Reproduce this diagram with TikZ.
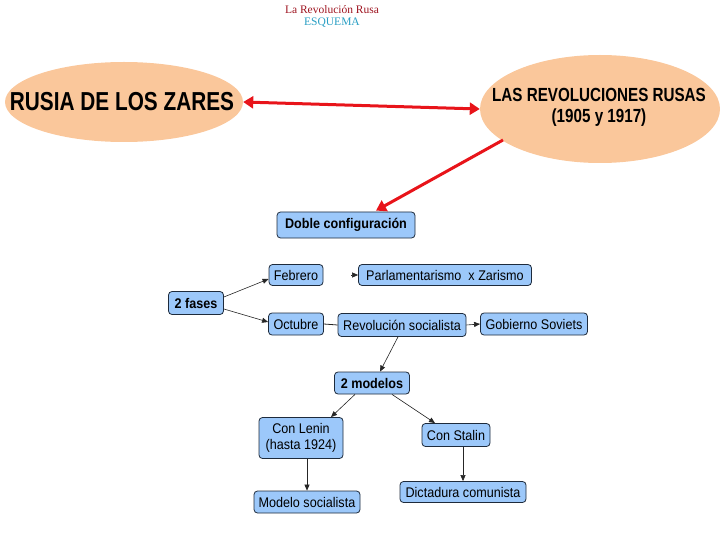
\documentclass[tikz,border=0pt]{standalone}
\usepackage{fontspec}
\setmainfont{Liberation Sans}
\newfontfamily\titlefont{Liberation Serif}
\usetikzlibrary{arrows.meta,shapes.geometric}
\definecolor{peach}{HTML}{FAC79B}
\definecolor{boxblue}{HTML}{9CC8FA}
\definecolor{boxline}{HTML}{1E2B3C}
\definecolor{redarrow}{HTML}{E8141A}
\definecolor{titlered}{HTML}{9E1420}
\definecolor{titleteal}{HTML}{2A9FC4}
\newcommand{\cnd}[1]{\scalebox{0.9}[1]{#1}}
\tikzset{
  oval/.style={ellipse, fill=peach, draw=none, inner sep=0pt},
  conceptbox/.style={rectangle, rounded corners=3.5pt, fill=boxblue, draw=boxline, line width=0.8pt, inner sep=0pt, font=\fontsize{14}{15.5}\selectfont, align=center},
  boldbox/.style={conceptbox, font=\fontsize{14}{15.5}\selectfont\bfseries},
  redlink/.style={draw=redarrow, line width=3pt, -{Triangle[length=10pt,width=12pt]}},
  redboth/.style={draw=redarrow, line width=3pt, {Triangle[length=10pt,width=12pt]}-{Triangle[length=10pt,width=12pt]}},
  link/.style={draw=black!85, line width=0.6pt, -{Triangle[length=6pt,width=5pt]}},
  plainlink/.style={draw=black!85, line width=0.8pt}
}
\begin{document}
\begin{tikzpicture}[x=1pt,y=-1pt]
\useasboundingbox (0,0) rectangle (720,540);
% titles
\node (t1) at (332,10) {\titlefont\fontsize{11.5}{13}\selectfont\color{titlered}La Revolución Rusa};
\node (t2) at (332,23) {\titlefont\fontsize{11.5}{13}\selectfont\color{titleteal}ESQUEMA};
% ellipses
\node[oval, minimum width=238pt, minimum height=80pt] (zares) at (124,102) {};
\node (zarestext) at (122,102) {\scalebox{0.8}[1]{\fontsize{26}{28}\selectfont\bfseries RUSIA DE LOS ZARES}};
\node[oval, minimum width=240pt, minimum height=108pt] (revs) at (600,109) {};
\node[align=center, font=\fontsize{19}{21}\selectfont\bfseries] (revtext) at (599,107) {\scalebox{0.8}[1]{LAS REVOLUCIONES RUSAS}\\\scalebox{0.8}[1]{(1905 y 1917)}};
% boxes
\node[boldbox, minimum width=138pt, minimum height=26pt] (doble) at (346,225) {\cnd{Doble configuración}};
\node[boldbox, minimum width=55pt, minimum height=23pt] (fases) at (196,303) {\cnd{2 fases}};
\node[conceptbox, minimum width=54pt, minimum height=21pt] (feb) at (296,275) {\cnd{Febrero}};
\node[conceptbox, minimum width=173pt, minimum height=21pt] (parl) at (445,275) {\cnd{Parlamentarismo\ \ x Zarismo}};
\node[conceptbox, minimum width=55pt, minimum height=22pt] (oct) at (296,324) {\cnd{Octubre}};
\node[conceptbox, minimum width=128pt, minimum height=23pt] (revsoc) at (402,325) {\cnd{Revolución socialista}};
\node[conceptbox, minimum width=107pt, minimum height=22pt] (gob) at (534,324) {\cnd{Gobierno Soviets}};
\node[boldbox, minimum width=75pt, minimum height=22pt] (modelos) at (372,383) {\cnd{2 modelos}};
\node[conceptbox, minimum width=84pt, minimum height=41pt] (lenin) at (301,438) {\cnd{Con Lenin}\\\cnd{(hasta 1924)}};
\node[conceptbox, minimum width=68pt, minimum height=23pt] (stalin) at (456,435) {\cnd{Con Stalin}};
\node[conceptbox, minimum width=106pt, minimum height=22pt] (msoc) at (307,502) {\cnd{Modelo socialista}};
\node[conceptbox, minimum width=126pt, minimum height=21pt] (dict) at (463,492) {\cnd{Dictadura comunista}};
% red connectors
\draw[redboth] (zares.east) -- (revs.west);
\draw[redlink] ([xshift=-97pt,yshift=-31pt]revs.center) -- ([xshift=30pt,yshift=1pt]doble.north);
% black connectors
\coordinate (feb2parl) at (351,275);
\draw[link] ([yshift=6pt]fases.east) -- ([yshift=-4pt]feb.west);
\draw[link] ([yshift=-6pt]fases.east) -- ([yshift=2pt]oct.west);
\draw[link] (feb2parl) -- (parl.west);
\draw[plainlink] (oct.east) -- (revsoc.west);
\draw[link] (revsoc.east) -- (gob.west);
\draw[link] ([xshift=-4pt]revsoc.south) -- ([xshift=8pt]modelos.north);
\draw[link] ([xshift=-17pt]modelos.south) -- ([xshift=30pt]lenin.north);
\draw[link] ([xshift=20pt]modelos.south) -- ([xshift=-21pt]stalin.north);
\draw[link] ([xshift=6pt]lenin.south) -- (msoc.north);
\draw[link] ([xshift=7pt]stalin.south) -- (dict.north);
\end{tikzpicture}
\end{document}
